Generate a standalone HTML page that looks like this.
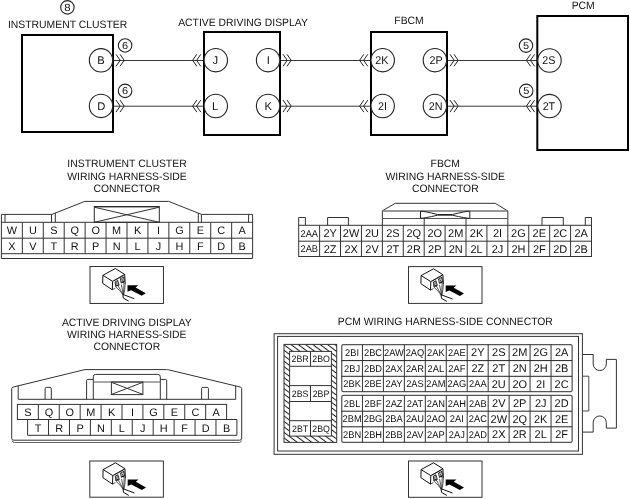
<!DOCTYPE html>
<html><head><meta charset="utf-8"><title>Wiring diagram</title>
<style>
html,body{margin:0;padding:0;background:#fff;width:630px;height:499px;overflow:hidden;}
svg{display:block;will-change:transform;}
text{font-family:"Liberation Sans",sans-serif;}
</style></head><body>
<svg width="630" height="499" viewBox="0 0 630 499" font-family="Liberation Sans, sans-serif" text-rendering="geometricPrecision">
<rect x="0" y="0" width="630" height="499" fill="#fff"/>
<circle cx="67.4" cy="7.35" r="6.75" stroke="#222" stroke-width="1.1" fill="#fff"/>
<text transform="translate(67.45,10.6) scale(1.1,1.0)" x="0" y="0" font-size="10.3" text-anchor="middle" fill="#111" >8</text>
<text transform="translate(67.6,27.5) scale(1.0,1.03)" x="0" y="0" font-size="10.4" text-anchor="middle" fill="#111" >INSTRUMENT CLUSTER</text>
<text transform="translate(243.0,25.5) scale(1.0,1.03)" x="0" y="0" font-size="10.4" text-anchor="middle" fill="#111" >ACTIVE DRIVING DISPLAY</text>
<text transform="translate(409.0,23.7) scale(1.0,1.03)" x="0" y="0" font-size="10.4" text-anchor="middle" fill="#111" >FBCM</text>
<text transform="translate(583.2,8.7) scale(1.0,1.03)" x="0" y="0" font-size="10.4" text-anchor="middle" fill="#111" >PCM</text>
<line x1="113" y1="60.5" x2="203" y2="60.5" stroke="#3a3a3a" stroke-width="1"/>
<line x1="280" y1="60.5" x2="370" y2="60.5" stroke="#3a3a3a" stroke-width="1"/>
<line x1="447" y1="60.5" x2="537" y2="60.5" stroke="#3a3a3a" stroke-width="1"/>
<line x1="113" y1="106.2" x2="203" y2="106.2" stroke="#3a3a3a" stroke-width="1"/>
<line x1="280" y1="106.2" x2="370" y2="106.2" stroke="#3a3a3a" stroke-width="1"/>
<line x1="447" y1="106.2" x2="537" y2="106.2" stroke="#3a3a3a" stroke-width="1"/>
<polyline points="116.0,54.3 120.2,60.3 116.0,66.3" stroke="#222" stroke-width="1" fill="none" stroke-linejoin="miter"/>
<polyline points="120.0,54.3 124.2,60.3 120.0,66.3" stroke="#222" stroke-width="1" fill="none" stroke-linejoin="miter"/>
<polyline points="200.8,54.3 196.60000000000002,60.3 200.8,66.3" stroke="#222" stroke-width="1" fill="none" stroke-linejoin="miter"/>
<polyline points="196.8,54.3 192.60000000000002,60.3 196.8,66.3" stroke="#222" stroke-width="1" fill="none" stroke-linejoin="miter"/>
<polyline points="283.0,54.3 287.2,60.3 283.0,66.3" stroke="#222" stroke-width="1" fill="none" stroke-linejoin="miter"/>
<polyline points="287.0,54.3 291.2,60.3 287.0,66.3" stroke="#222" stroke-width="1" fill="none" stroke-linejoin="miter"/>
<polyline points="367.8,54.3 363.6,60.3 367.8,66.3" stroke="#222" stroke-width="1" fill="none" stroke-linejoin="miter"/>
<polyline points="363.8,54.3 359.6,60.3 363.8,66.3" stroke="#222" stroke-width="1" fill="none" stroke-linejoin="miter"/>
<polyline points="450.0,54.3 454.2,60.3 450.0,66.3" stroke="#222" stroke-width="1" fill="none" stroke-linejoin="miter"/>
<polyline points="454.0,54.3 458.2,60.3 454.0,66.3" stroke="#222" stroke-width="1" fill="none" stroke-linejoin="miter"/>
<polyline points="534.6,54.3 530.4,60.3 534.6,66.3" stroke="#222" stroke-width="1" fill="none" stroke-linejoin="miter"/>
<polyline points="530.6,54.3 526.4,60.3 530.6,66.3" stroke="#222" stroke-width="1" fill="none" stroke-linejoin="miter"/>
<polyline points="116.0,100.1 120.2,106.1 116.0,112.1" stroke="#222" stroke-width="1" fill="none" stroke-linejoin="miter"/>
<polyline points="120.0,100.1 124.2,106.1 120.0,112.1" stroke="#222" stroke-width="1" fill="none" stroke-linejoin="miter"/>
<polyline points="200.8,100.1 196.60000000000002,106.1 200.8,112.1" stroke="#222" stroke-width="1" fill="none" stroke-linejoin="miter"/>
<polyline points="196.8,100.1 192.60000000000002,106.1 196.8,112.1" stroke="#222" stroke-width="1" fill="none" stroke-linejoin="miter"/>
<polyline points="283.0,100.1 287.2,106.1 283.0,112.1" stroke="#222" stroke-width="1" fill="none" stroke-linejoin="miter"/>
<polyline points="287.0,100.1 291.2,106.1 287.0,112.1" stroke="#222" stroke-width="1" fill="none" stroke-linejoin="miter"/>
<polyline points="367.8,100.1 363.6,106.1 367.8,112.1" stroke="#222" stroke-width="1" fill="none" stroke-linejoin="miter"/>
<polyline points="363.8,100.1 359.6,106.1 363.8,112.1" stroke="#222" stroke-width="1" fill="none" stroke-linejoin="miter"/>
<polyline points="450.0,100.1 454.2,106.1 450.0,112.1" stroke="#222" stroke-width="1" fill="none" stroke-linejoin="miter"/>
<polyline points="454.0,100.1 458.2,106.1 454.0,112.1" stroke="#222" stroke-width="1" fill="none" stroke-linejoin="miter"/>
<polyline points="534.6,100.1 530.4,106.1 534.6,112.1" stroke="#222" stroke-width="1" fill="none" stroke-linejoin="miter"/>
<polyline points="530.6,100.1 526.4,106.1 530.6,112.1" stroke="#222" stroke-width="1" fill="none" stroke-linejoin="miter"/>
<rect x="22" y="35" width="91" height="97" stroke="#000" stroke-width="2" fill="none" rx="0"/>
<rect x="204" y="32" width="76" height="103" stroke="#000" stroke-width="2" fill="none" rx="0"/>
<rect x="371" y="32" width="76" height="103" stroke="#000" stroke-width="2" fill="none" rx="0"/>
<rect x="537.3" y="16" width="90.7" height="134" stroke="#000" stroke-width="2" fill="none" rx="0"/>
<circle cx="101.0" cy="60.3" r="11.7" stroke="#222" stroke-width="1.1" fill="#fff"/>
<text x="100.9" y="64.15" font-size="11.2" text-anchor="middle" fill="#111" >B</text>
<circle cx="101.0" cy="105.9" r="11.7" stroke="#222" stroke-width="1.1" fill="#fff"/>
<text x="101.2" y="109.75" font-size="11.2" text-anchor="middle" fill="#111" >D</text>
<circle cx="215.8" cy="60.2" r="11.7" stroke="#222" stroke-width="1.1" fill="#fff"/>
<text x="215.25" y="64.05" font-size="11.2" text-anchor="middle" fill="#111" >J</text>
<circle cx="268.1" cy="60.2" r="11.7" stroke="#222" stroke-width="1.1" fill="#fff"/>
<text x="268.3" y="64.05" font-size="11.2" text-anchor="middle" fill="#111" >I</text>
<circle cx="215.8" cy="106.0" r="11.7" stroke="#222" stroke-width="1.1" fill="#fff"/>
<text x="215.1" y="109.85" font-size="11.2" text-anchor="middle" fill="#111" >L</text>
<circle cx="268.1" cy="106.0" r="11.7" stroke="#222" stroke-width="1.1" fill="#fff"/>
<text x="268.3" y="109.85" font-size="11.2" text-anchor="middle" fill="#111" >K</text>
<circle cx="382.7" cy="60.2" r="11.7" stroke="#222" stroke-width="1.1" fill="#fff"/>
<text transform="translate(381.9,64.05) scale(0.96,1.0)" x="0" y="0" font-size="11.2" text-anchor="middle" fill="#111" >2K</text>
<circle cx="434.9" cy="60.2" r="11.7" stroke="#222" stroke-width="1.1" fill="#fff"/>
<text transform="translate(436.0,64.05) scale(0.96,1.0)" x="0" y="0" font-size="11.2" text-anchor="middle" fill="#111" >2P</text>
<circle cx="382.7" cy="106.0" r="11.7" stroke="#222" stroke-width="1.1" fill="#fff"/>
<text transform="translate(382.4,109.85) scale(0.96,1.0)" x="0" y="0" font-size="11.2" text-anchor="middle" fill="#111" >2I</text>
<circle cx="434.9" cy="106.0" r="11.7" stroke="#222" stroke-width="1.1" fill="#fff"/>
<text transform="translate(435.7,109.85) scale(0.96,1.0)" x="0" y="0" font-size="11.2" text-anchor="middle" fill="#111" >2N</text>
<circle cx="549.5" cy="60.5" r="11.7" stroke="#222" stroke-width="1.1" fill="#fff"/>
<text transform="translate(548.9,64.35) scale(0.96,1.0)" x="0" y="0" font-size="11.2" text-anchor="middle" fill="#111" >2S</text>
<circle cx="549.5" cy="106.1" r="11.7" stroke="#222" stroke-width="1.1" fill="#fff"/>
<text transform="translate(548.9,110.35) scale(0.96,1.0)" x="0" y="0" font-size="11.2" text-anchor="middle" fill="#111" >2T</text>
<circle cx="125.1" cy="45.45" r="6.75" stroke="#222" stroke-width="1.1" fill="#fff"/>
<text transform="translate(125.14999999999999,48.75) scale(1.1,1.0)" x="0" y="0" font-size="10.0" text-anchor="middle" fill="#111" >6</text>
<circle cx="125.1" cy="90.9" r="6.75" stroke="#222" stroke-width="1.1" fill="#fff"/>
<text transform="translate(125.14999999999999,94.2) scale(1.1,1.0)" x="0" y="0" font-size="10.0" text-anchor="middle" fill="#111" >6</text>
<circle cx="526.0" cy="45.6" r="6.75" stroke="#222" stroke-width="1.1" fill="#fff"/>
<text transform="translate(526.05,48.9) scale(1.1,1.0)" x="0" y="0" font-size="10.0" text-anchor="middle" fill="#111" >5</text>
<circle cx="526.2" cy="90.9" r="6.75" stroke="#222" stroke-width="1.1" fill="#fff"/>
<text transform="translate(526.25,94.2) scale(1.1,1.0)" x="0" y="0" font-size="10.0" text-anchor="middle" fill="#111" >5</text>
<text transform="translate(127.0,167.2) scale(1.0,1.03)" x="0" y="0" font-size="10.4" text-anchor="middle" fill="#111" >INSTRUMENT CLUSTER</text>
<text transform="translate(127.0,179.7) scale(1.0,1.03)" x="0" y="0" font-size="10.4" text-anchor="middle" fill="#111" >WIRING HARNESS-SIDE</text>
<text transform="translate(126.8,192.0) scale(1.0,1.03)" x="0" y="0" font-size="10.4" text-anchor="middle" fill="#111" >CONNECTOR</text>
<polyline points="1.4,258.5 1.4,214.4 51.9,214.4 84.8,201.4 168.7,201.4 201.5,214.4 252.6,214.4 252.6,258.5" stroke="#333" stroke-width="1" fill="none" stroke-linejoin="miter"/>
<line x1="1.4" y1="222.3" x2="252.6" y2="222.3" stroke="#333" stroke-width="1"/>
<line x1="1.4" y1="238.2" x2="252.6" y2="238.2" stroke="#333" stroke-width="1"/>
<line x1="1.4" y1="253.7" x2="252.6" y2="253.7" stroke="#333" stroke-width="1"/>
<line x1="1.4" y1="258.5" x2="252.6" y2="258.5" stroke="#333" stroke-width="1"/>
<line x1="22.33" y1="222.3" x2="22.33" y2="253.7" stroke="#333" stroke-width="1"/>
<line x1="43.27" y1="222.3" x2="43.27" y2="253.7" stroke="#333" stroke-width="1"/>
<line x1="64.2" y1="222.3" x2="64.2" y2="253.7" stroke="#333" stroke-width="1"/>
<line x1="85.13" y1="222.3" x2="85.13" y2="253.7" stroke="#333" stroke-width="1"/>
<line x1="106.07" y1="222.3" x2="106.07" y2="253.7" stroke="#333" stroke-width="1"/>
<line x1="127.0" y1="222.3" x2="127.0" y2="253.7" stroke="#333" stroke-width="1"/>
<line x1="147.93" y1="222.3" x2="147.93" y2="253.7" stroke="#333" stroke-width="1"/>
<line x1="168.87" y1="222.3" x2="168.87" y2="253.7" stroke="#333" stroke-width="1"/>
<line x1="189.8" y1="222.3" x2="189.8" y2="253.7" stroke="#333" stroke-width="1"/>
<line x1="210.73" y1="222.3" x2="210.73" y2="253.7" stroke="#333" stroke-width="1"/>
<line x1="231.67" y1="222.3" x2="231.67" y2="253.7" stroke="#333" stroke-width="1"/>
<line x1="5.0" y1="214.4" x2="5.0" y2="222.3" stroke="#333" stroke-width="1"/>
<line x1="51.5" y1="214.4" x2="51.5" y2="222.3" stroke="#333" stroke-width="1"/>
<line x1="55.3" y1="212.9" x2="55.3" y2="222.3" stroke="#333" stroke-width="1"/>
<line x1="198.3" y1="213.1" x2="198.3" y2="222.3" stroke="#333" stroke-width="1"/>
<line x1="201.4" y1="214.4" x2="201.4" y2="222.3" stroke="#333" stroke-width="1"/>
<line x1="248.6" y1="214.4" x2="248.6" y2="222.3" stroke="#333" stroke-width="1"/>
<rect x="94.3" y="206.5" width="65.0" height="15.8" stroke="#2a2a2a" stroke-width="1" fill="none" rx="0"/>
<line x1="94.8" y1="207.5" x2="158.8" y2="207.5" stroke="#aaa" stroke-width="1"/>
<line x1="94.3" y1="207.2" x2="159.3" y2="222.3" stroke="#333" stroke-width="1"/>
<line x1="94.3" y1="222.3" x2="159.3" y2="207.2" stroke="#333" stroke-width="1"/>
<text x="11.97" y="234.0" font-size="10.9" text-anchor="middle" fill="#111" >W</text>
<text x="32.9" y="234.0" font-size="10.9" text-anchor="middle" fill="#111" >U</text>
<text x="53.83" y="234.0" font-size="10.9" text-anchor="middle" fill="#111" >S</text>
<text x="74.77" y="234.0" font-size="10.9" text-anchor="middle" fill="#111" >Q</text>
<text x="95.7" y="234.0" font-size="10.9" text-anchor="middle" fill="#111" >O</text>
<text x="116.63" y="234.0" font-size="10.9" text-anchor="middle" fill="#111" >M</text>
<text x="137.57" y="234.0" font-size="10.9" text-anchor="middle" fill="#111" >K</text>
<text x="158.5" y="234.0" font-size="10.9" text-anchor="middle" fill="#111" >I</text>
<text x="179.43" y="234.0" font-size="10.9" text-anchor="middle" fill="#111" >G</text>
<text x="200.37" y="234.0" font-size="10.9" text-anchor="middle" fill="#111" >E</text>
<text x="221.3" y="234.0" font-size="10.9" text-anchor="middle" fill="#111" >C</text>
<text x="242.23" y="234.0" font-size="10.9" text-anchor="middle" fill="#111" >A</text>
<text x="11.97" y="249.7" font-size="10.9" text-anchor="middle" fill="#111" >X</text>
<text x="32.9" y="249.7" font-size="10.9" text-anchor="middle" fill="#111" >V</text>
<text x="53.83" y="249.7" font-size="10.9" text-anchor="middle" fill="#111" >T</text>
<text x="74.77" y="249.7" font-size="10.9" text-anchor="middle" fill="#111" >R</text>
<text x="95.7" y="249.7" font-size="10.9" text-anchor="middle" fill="#111" >P</text>
<text x="116.63" y="249.7" font-size="10.9" text-anchor="middle" fill="#111" >N</text>
<text x="137.57" y="249.7" font-size="10.9" text-anchor="middle" fill="#111" >L</text>
<text x="158.5" y="249.7" font-size="10.9" text-anchor="middle" fill="#111" >J</text>
<text x="179.43" y="249.7" font-size="10.9" text-anchor="middle" fill="#111" >H</text>
<text x="200.37" y="249.7" font-size="10.9" text-anchor="middle" fill="#111" >F</text>
<text x="221.3" y="249.7" font-size="10.9" text-anchor="middle" fill="#111" >D</text>
<text x="242.23" y="249.7" font-size="10.9" text-anchor="middle" fill="#111" >B</text>
<text transform="translate(445.3,167.4) scale(1.0,1.03)" x="0" y="0" font-size="10.4" text-anchor="middle" fill="#111" >FBCM</text>
<text transform="translate(445.3,179.6) scale(1.0,1.03)" x="0" y="0" font-size="10.4" text-anchor="middle" fill="#111" >WIRING HARNESS-SIDE</text>
<text transform="translate(445.3,192.1) scale(1.0,1.03)" x="0" y="0" font-size="10.4" text-anchor="middle" fill="#111" >CONNECTOR</text>
<rect x="298.7" y="225.3" width="292.8" height="31.19999999999999" stroke="#333" stroke-width="1" fill="none" rx="0"/>
<line x1="298.7" y1="241.2" x2="591.5" y2="241.2" stroke="#333" stroke-width="1"/>
<line x1="319.61" y1="225.3" x2="319.61" y2="256.5" stroke="#333" stroke-width="1"/>
<line x1="340.53" y1="225.3" x2="340.53" y2="256.5" stroke="#333" stroke-width="1"/>
<line x1="361.44" y1="225.3" x2="361.44" y2="256.5" stroke="#333" stroke-width="1"/>
<line x1="382.36" y1="225.3" x2="382.36" y2="256.5" stroke="#333" stroke-width="1"/>
<line x1="403.27" y1="225.3" x2="403.27" y2="256.5" stroke="#333" stroke-width="1"/>
<line x1="424.19" y1="225.3" x2="424.19" y2="256.5" stroke="#333" stroke-width="1"/>
<line x1="445.1" y1="225.3" x2="445.1" y2="256.5" stroke="#333" stroke-width="1"/>
<line x1="466.01" y1="225.3" x2="466.01" y2="256.5" stroke="#333" stroke-width="1"/>
<line x1="486.93" y1="225.3" x2="486.93" y2="256.5" stroke="#333" stroke-width="1"/>
<line x1="507.84" y1="225.3" x2="507.84" y2="256.5" stroke="#333" stroke-width="1"/>
<line x1="528.76" y1="225.3" x2="528.76" y2="256.5" stroke="#333" stroke-width="1"/>
<line x1="549.67" y1="225.3" x2="549.67" y2="256.5" stroke="#333" stroke-width="1"/>
<line x1="570.59" y1="225.3" x2="570.59" y2="256.5" stroke="#333" stroke-width="1"/>
<polyline points="382.36,225.3 382.36,210.8 395.3,203.3 495.2,203.3 507.84,211.0 507.84,225.3" stroke="#333" stroke-width="1" fill="none" stroke-linejoin="miter"/>
<line x1="382.36" y1="211.0" x2="507.84" y2="211.0" stroke="#777" stroke-width="1.3"/>
<line x1="382.36" y1="218.5" x2="507.84" y2="218.5" stroke="#555" stroke-width="1"/>
<line x1="420.5" y1="211.0" x2="420.5" y2="218.5" stroke="#222" stroke-width="1"/>
<line x1="469.8" y1="211.0" x2="469.8" y2="218.5" stroke="#222" stroke-width="1"/>
<path d="M 421 211.2 Q 424 211.2 437.7 214.5 L 452.3 214.5 Q 466 211.2 469.3 211.2" stroke="#222" stroke-width="1" fill="none" />
<path d="M 421 218.3 Q 424 218.3 437.7 215.2 L 452.3 215.2 Q 466 218.3 469.3 218.3" stroke="#222" stroke-width="1" fill="none" />
<line x1="424.19" y1="218.5" x2="424.19" y2="225.3" stroke="#333" stroke-width="1"/>
<line x1="466.01" y1="218.5" x2="466.01" y2="225.3" stroke="#333" stroke-width="1"/>
<polyline points="298.7,225.3 298.7,217.5 305.4,217.5 305.4,225.3" stroke="#333" stroke-width="1" fill="none" stroke-linejoin="miter"/>
<polyline points="327.6,225.3 327.6,217.5 348.4,217.5 348.4,225.3" stroke="#333" stroke-width="1" fill="none" stroke-linejoin="miter"/>
<polyline points="542.0,225.3 542.0,217.5 563.3,217.5 563.3,225.3" stroke="#333" stroke-width="1" fill="none" stroke-linejoin="miter"/>
<polyline points="585.3,225.3 585.3,217.5 591.5,217.5 591.5,225.3" stroke="#333" stroke-width="1" fill="none" stroke-linejoin="miter"/>
<text transform="translate(309.26,236.62) scale(0.95,1.0)" x="0" y="0" font-size="9.8" text-anchor="middle" fill="#111" >2AA</text>
<text transform="translate(330.17,237.1) scale(0.98,1.0)" x="0" y="0" font-size="11.2" text-anchor="middle" fill="#111" >2Y</text>
<text transform="translate(351.09,237.1) scale(0.98,1.0)" x="0" y="0" font-size="11.2" text-anchor="middle" fill="#111" >2W</text>
<text transform="translate(372.0,237.1) scale(0.98,1.0)" x="0" y="0" font-size="11.2" text-anchor="middle" fill="#111" >2U</text>
<text transform="translate(392.91,237.1) scale(0.98,1.0)" x="0" y="0" font-size="11.2" text-anchor="middle" fill="#111" >2S</text>
<text transform="translate(413.83,237.1) scale(0.98,1.0)" x="0" y="0" font-size="11.2" text-anchor="middle" fill="#111" >2Q</text>
<text transform="translate(434.74,237.1) scale(0.98,1.0)" x="0" y="0" font-size="11.2" text-anchor="middle" fill="#111" >2O</text>
<text transform="translate(455.66,237.1) scale(0.98,1.0)" x="0" y="0" font-size="11.2" text-anchor="middle" fill="#111" >2M</text>
<text transform="translate(476.57,237.1) scale(0.98,1.0)" x="0" y="0" font-size="11.2" text-anchor="middle" fill="#111" >2K</text>
<text transform="translate(497.49,237.1) scale(0.98,1.0)" x="0" y="0" font-size="11.2" text-anchor="middle" fill="#111" >2I</text>
<text transform="translate(518.4,237.1) scale(0.98,1.0)" x="0" y="0" font-size="11.2" text-anchor="middle" fill="#111" >2G</text>
<text transform="translate(539.31,237.1) scale(0.98,1.0)" x="0" y="0" font-size="11.2" text-anchor="middle" fill="#111" >2E</text>
<text transform="translate(560.23,237.1) scale(0.98,1.0)" x="0" y="0" font-size="11.2" text-anchor="middle" fill="#111" >2C</text>
<text transform="translate(581.14,237.1) scale(0.98,1.0)" x="0" y="0" font-size="11.2" text-anchor="middle" fill="#111" >2A</text>
<text transform="translate(309.26,252.22) scale(0.95,1.0)" x="0" y="0" font-size="9.8" text-anchor="middle" fill="#111" >2AB</text>
<text transform="translate(330.17,252.7) scale(0.98,1.0)" x="0" y="0" font-size="11.2" text-anchor="middle" fill="#111" >2Z</text>
<text transform="translate(351.09,252.7) scale(0.98,1.0)" x="0" y="0" font-size="11.2" text-anchor="middle" fill="#111" >2X</text>
<text transform="translate(372.0,252.7) scale(0.98,1.0)" x="0" y="0" font-size="11.2" text-anchor="middle" fill="#111" >2V</text>
<text transform="translate(392.91,252.7) scale(0.98,1.0)" x="0" y="0" font-size="11.2" text-anchor="middle" fill="#111" >2T</text>
<text transform="translate(413.83,252.7) scale(0.98,1.0)" x="0" y="0" font-size="11.2" text-anchor="middle" fill="#111" >2R</text>
<text transform="translate(434.74,252.7) scale(0.98,1.0)" x="0" y="0" font-size="11.2" text-anchor="middle" fill="#111" >2P</text>
<text transform="translate(455.66,252.7) scale(0.98,1.0)" x="0" y="0" font-size="11.2" text-anchor="middle" fill="#111" >2N</text>
<text transform="translate(476.57,252.7) scale(0.98,1.0)" x="0" y="0" font-size="11.2" text-anchor="middle" fill="#111" >2L</text>
<text transform="translate(497.49,252.7) scale(0.98,1.0)" x="0" y="0" font-size="11.2" text-anchor="middle" fill="#111" >2J</text>
<text transform="translate(518.4,252.7) scale(0.98,1.0)" x="0" y="0" font-size="11.2" text-anchor="middle" fill="#111" >2H</text>
<text transform="translate(539.31,252.7) scale(0.98,1.0)" x="0" y="0" font-size="11.2" text-anchor="middle" fill="#111" >2F</text>
<text transform="translate(560.23,252.7) scale(0.98,1.0)" x="0" y="0" font-size="11.2" text-anchor="middle" fill="#111" >2D</text>
<text transform="translate(581.14,252.7) scale(0.98,1.0)" x="0" y="0" font-size="11.2" text-anchor="middle" fill="#111" >2B</text>
<text transform="translate(126.8,325.5) scale(1.0,1.03)" x="0" y="0" font-size="10.4" text-anchor="middle" fill="#111" >ACTIVE DRIVING DISPLAY</text>
<text transform="translate(126.8,337.9) scale(1.0,1.03)" x="0" y="0" font-size="10.4" text-anchor="middle" fill="#111" >WIRING HARNESS-SIDE</text>
<text transform="translate(126.8,350.0) scale(1.0,1.03)" x="0" y="0" font-size="10.4" text-anchor="middle" fill="#111" >CONNECTOR</text>
<path d="M 11.7 388.6 Q 11.7 387.4 13 387.1 L 84 369.8 Q 85 369.6 86 369.6 L 166.5 369.6 Q 167.5 369.6 168.5 369.8 L 240.5 387.1 Q 241.7 387.4 241.7 388.6 L 241.7 438.2 Q 241.7 440.2 239.7 440.2 L 13.7 440.2 Q 11.7 440.2 11.7 438.2 Z" stroke="#333" stroke-width="1" fill="none" />
<path d="M 12.2 440.6 Q 12.6 442.5 14.6 442.5 L 239.2 442.5 Q 241.2 442.5 241.4 440.6" stroke="#666" stroke-width="1" fill="none" />
<polyline points="18.2,385.9 18.2,399.3 235.7,399.3 235.7,385.9" stroke="#333" stroke-width="1" fill="none" stroke-linejoin="miter"/>
<path d="M 45.1 399.3 L 45.1 388.6 Q 45.1 387.4 46.3 387.4 L 50.1 387.4 Q 51.3 387.4 51.3 388.6 L 51.3 399.3" stroke="#333" stroke-width="1" fill="none" />
<path d="M 201.6 399.3 L 201.6 388.6 Q 201.6 387.4 202.8 387.4 L 207.2 387.4 Q 208.4 387.4 208.4 388.6 L 208.4 399.3" stroke="#333" stroke-width="1" fill="none" />
<path d="M 86.6 399.3 L 86.6 380.6 Q 86.6 379.4 87.8 379.4 L 93.3 379.4" stroke="#333" stroke-width="1" fill="none" />
<path d="M 160.3 379.4 L 165.5 379.4 Q 166.7 379.4 166.7 380.6 L 166.7 399.3" stroke="#333" stroke-width="1" fill="none" />
<path d="M 93.3 399.3 L 93.3 376.8 Q 93.3 374.4 95.7 374.4 L 157.9 374.4 Q 160.3 374.4 160.3 376.8 L 160.3 399.3" stroke="#333" stroke-width="1" fill="none" />
<line x1="93.3" y1="382.0" x2="160.3" y2="382.0" stroke="#555" stroke-width="1"/>
<rect x="111.4" y="382.0" width="31.5" height="12.6" stroke="#333" stroke-width="1" fill="none" rx="0"/>
<line x1="111.4" y1="382.3" x2="142.9" y2="394.4" stroke="#333" stroke-width="1"/>
<line x1="111.4" y1="394.4" x2="142.9" y2="382.3" stroke="#333" stroke-width="1"/>
<rect x="17.4" y="404.4" width="209.2" height="15.100000000000023" stroke="#333" stroke-width="1" fill="none" rx="0"/>
<line x1="38.32" y1="404.4" x2="38.32" y2="419.5" stroke="#333" stroke-width="1"/>
<line x1="59.24" y1="404.4" x2="59.24" y2="419.5" stroke="#333" stroke-width="1"/>
<line x1="80.16" y1="404.4" x2="80.16" y2="419.5" stroke="#333" stroke-width="1"/>
<line x1="101.08" y1="404.4" x2="101.08" y2="419.5" stroke="#333" stroke-width="1"/>
<line x1="122.0" y1="404.4" x2="122.0" y2="419.5" stroke="#333" stroke-width="1"/>
<line x1="142.92" y1="404.4" x2="142.92" y2="419.5" stroke="#333" stroke-width="1"/>
<line x1="163.84" y1="404.4" x2="163.84" y2="419.5" stroke="#333" stroke-width="1"/>
<line x1="184.76" y1="404.4" x2="184.76" y2="419.5" stroke="#333" stroke-width="1"/>
<line x1="205.68" y1="404.4" x2="205.68" y2="419.5" stroke="#333" stroke-width="1"/>
<polyline points="27.6,419.5 27.6,435.3 236.9,435.3 236.9,419.5 226.6,419.5" stroke="#333" stroke-width="1" fill="none" stroke-linejoin="miter"/>
<line x1="48.53" y1="419.5" x2="48.53" y2="435.3" stroke="#333" stroke-width="1"/>
<line x1="69.46" y1="419.5" x2="69.46" y2="435.3" stroke="#333" stroke-width="1"/>
<line x1="90.39" y1="419.5" x2="90.39" y2="435.3" stroke="#333" stroke-width="1"/>
<line x1="111.32" y1="419.5" x2="111.32" y2="435.3" stroke="#333" stroke-width="1"/>
<line x1="132.25" y1="419.5" x2="132.25" y2="435.3" stroke="#333" stroke-width="1"/>
<line x1="153.18" y1="419.5" x2="153.18" y2="435.3" stroke="#333" stroke-width="1"/>
<line x1="174.11" y1="419.5" x2="174.11" y2="435.3" stroke="#333" stroke-width="1"/>
<line x1="195.04" y1="419.5" x2="195.04" y2="435.3" stroke="#333" stroke-width="1"/>
<line x1="215.97" y1="419.5" x2="215.97" y2="435.3" stroke="#333" stroke-width="1"/>
<text x="27.96" y="416.1" font-size="10.9" text-anchor="middle" fill="#111" >S</text>
<text x="48.88" y="416.1" font-size="10.9" text-anchor="middle" fill="#111" >Q</text>
<text x="69.8" y="416.1" font-size="10.9" text-anchor="middle" fill="#111" >O</text>
<text x="90.72" y="416.1" font-size="10.9" text-anchor="middle" fill="#111" >M</text>
<text x="111.64" y="416.1" font-size="10.9" text-anchor="middle" fill="#111" >K</text>
<text x="132.56" y="416.1" font-size="10.9" text-anchor="middle" fill="#111" >I</text>
<text x="153.48" y="416.1" font-size="10.9" text-anchor="middle" fill="#111" >G</text>
<text x="174.4" y="416.1" font-size="10.9" text-anchor="middle" fill="#111" >E</text>
<text x="195.32" y="416.1" font-size="10.9" text-anchor="middle" fill="#111" >C</text>
<text x="216.24" y="416.1" font-size="10.9" text-anchor="middle" fill="#111" >A</text>
<text x="38.16" y="431.85" font-size="10.9" text-anchor="middle" fill="#111" >T</text>
<text x="59.1" y="431.85" font-size="10.9" text-anchor="middle" fill="#111" >R</text>
<text x="80.03" y="431.85" font-size="10.9" text-anchor="middle" fill="#111" >P</text>
<text x="100.95" y="431.85" font-size="10.9" text-anchor="middle" fill="#111" >N</text>
<text x="121.88" y="431.85" font-size="10.9" text-anchor="middle" fill="#111" >L</text>
<text x="142.81" y="431.85" font-size="10.9" text-anchor="middle" fill="#111" >J</text>
<text x="163.74" y="431.85" font-size="10.9" text-anchor="middle" fill="#111" >H</text>
<text x="184.67" y="431.85" font-size="10.9" text-anchor="middle" fill="#111" >F</text>
<text x="205.6" y="431.85" font-size="10.9" text-anchor="middle" fill="#111" >D</text>
<text x="226.53" y="431.85" font-size="10.9" text-anchor="middle" fill="#111" >B</text>
<text transform="translate(445.3,325.1) scale(1.0,1.03)" x="0" y="0" font-size="10.4" text-anchor="middle" fill="#111" >PCM WIRING HARNESS-SIDE CONNECTOR</text>
<rect x="274.1" y="333.7" width="308.29999999999995" height="120.60000000000002" stroke="#333" stroke-width="1" fill="none" rx="0"/>
<rect x="277.6" y="336.4" width="300.9" height="114.60000000000002" stroke="#333" stroke-width="1" fill="none" rx="0"/>
<path d="M 582.4 354.5 L 593.2 354.5 L 593.2 364.0 A 6.55 6.55 0 0 0 606.3 364.0 L 606.3 359.4 L 616.4 359.4 L 616.4 428.1 L 606.3 428.1 L 606.3 422.5 A 6.55 6.55 0 0 0 593.2 422.5 L 593.2 432.1 L 582.4 432.1" stroke="#333" stroke-width="1" fill="none" />
<path d="M 582.4 376.2 L 588.8 376.2 L 588.8 411.0 L 582.4 411.0" stroke="#4a4a4a" stroke-width="1" fill="none" />
<defs><pattern id="hat" patternUnits="userSpaceOnUse" x="0" y="-1.87" width="20" height="4.38" patternTransform="rotate(36.87)"><line x1="-1" y1="2.19" x2="21" y2="2.19" stroke="#1a1a1a" stroke-width="1.0"/></pattern></defs>
<path d="M 284 344.4 H 336.7 V 442.4 H 284 Z M 289.6 351.4 V 436.1 H 331.4 V 351.4 Z" fill="url(#hat)" fill-rule="evenodd" stroke="none"/>
<rect x="284" y="344.4" width="52.69999999999999" height="98.0" stroke="#333" stroke-width="1.0" fill="none" rx="0"/>
<rect x="289.6" y="351.4" width="41.799999999999955" height="84.70000000000005" stroke="#333" stroke-width="1" fill="none" rx="0"/>
<line x1="289.6" y1="366.3" x2="331.4" y2="366.3" stroke="#333" stroke-width="1"/>
<line x1="289.6" y1="385.6" x2="331.4" y2="385.6" stroke="#333" stroke-width="1"/>
<line x1="289.6" y1="401.5" x2="331.4" y2="401.5" stroke="#333" stroke-width="1"/>
<line x1="289.6" y1="420.7" x2="331.4" y2="420.7" stroke="#333" stroke-width="1"/>
<line x1="310.5" y1="351.4" x2="310.5" y2="366.3" stroke="#333" stroke-width="1"/>
<line x1="310.5" y1="385.6" x2="310.5" y2="401.5" stroke="#333" stroke-width="1"/>
<line x1="310.5" y1="420.7" x2="310.5" y2="436.1" stroke="#333" stroke-width="1"/>
<text transform="translate(300.15,362.05) scale(0.95,1.0)" x="0" y="0" font-size="9.3" text-anchor="middle" fill="#111" >2BR</text>
<text transform="translate(321.05,362.05) scale(0.95,1.0)" x="0" y="0" font-size="9.3" text-anchor="middle" fill="#111" >2BO</text>
<text transform="translate(300.15,396.75) scale(0.95,1.0)" x="0" y="0" font-size="9.3" text-anchor="middle" fill="#111" >2BS</text>
<text transform="translate(321.05,396.75) scale(0.95,1.0)" x="0" y="0" font-size="9.3" text-anchor="middle" fill="#111" >2BP</text>
<text transform="translate(300.15,431.6) scale(0.95,1.0)" x="0" y="0" font-size="9.3" text-anchor="middle" fill="#111" >2BT</text>
<text transform="translate(321.05,431.6) scale(0.95,1.0)" x="0" y="0" font-size="9.3" text-anchor="middle" fill="#111" >2BQ</text>
<rect x="341.75" y="344.65000000000003" width="230.4" height="47.0" rx="1.6" fill="none" stroke="#555" stroke-width="1.25"/>
<line x1="341.5" y1="360.6" x2="572.0" y2="360.6" stroke="#222" stroke-width="1"/>
<line x1="341.5" y1="376.3" x2="572.0" y2="376.3" stroke="#222" stroke-width="1"/>
<line x1="362.45" y1="344.6" x2="362.45" y2="391.7" stroke="#333" stroke-width="1"/>
<line x1="383.41" y1="344.6" x2="383.41" y2="391.7" stroke="#333" stroke-width="1"/>
<line x1="404.36" y1="344.6" x2="404.36" y2="391.7" stroke="#333" stroke-width="1"/>
<line x1="425.32" y1="344.6" x2="425.32" y2="391.7" stroke="#333" stroke-width="1"/>
<line x1="446.27" y1="344.6" x2="446.27" y2="391.7" stroke="#333" stroke-width="1"/>
<line x1="467.23" y1="344.6" x2="467.23" y2="391.7" stroke="#333" stroke-width="1"/>
<line x1="488.18" y1="344.6" x2="488.18" y2="391.7" stroke="#333" stroke-width="1"/>
<line x1="509.14" y1="344.6" x2="509.14" y2="391.7" stroke="#333" stroke-width="1"/>
<line x1="530.09" y1="344.6" x2="530.09" y2="391.7" stroke="#333" stroke-width="1"/>
<line x1="551.05" y1="344.6" x2="551.05" y2="391.7" stroke="#333" stroke-width="1"/>
<text transform="translate(352.08,355.97) scale(0.95,1.0)" x="0" y="0" font-size="9.8" text-anchor="middle" fill="#111" >2BI</text>
<text transform="translate(373.03,355.97) scale(0.95,1.0)" x="0" y="0" font-size="9.8" text-anchor="middle" fill="#111" >2BC</text>
<text transform="translate(393.99,355.97) scale(0.95,1.0)" x="0" y="0" font-size="9.8" text-anchor="middle" fill="#111" >2AW</text>
<text transform="translate(414.94,355.97) scale(0.95,1.0)" x="0" y="0" font-size="9.8" text-anchor="middle" fill="#111" >2AQ</text>
<text transform="translate(435.9,355.97) scale(0.95,1.0)" x="0" y="0" font-size="9.8" text-anchor="middle" fill="#111" >2AK</text>
<text transform="translate(456.85,355.97) scale(0.95,1.0)" x="0" y="0" font-size="9.8" text-anchor="middle" fill="#111" >2AE</text>
<text transform="translate(477.8,356.45) scale(0.98,1.0)" x="0" y="0" font-size="11.2" text-anchor="middle" fill="#111" >2Y</text>
<text transform="translate(498.76,356.45) scale(0.98,1.0)" x="0" y="0" font-size="11.2" text-anchor="middle" fill="#111" >2S</text>
<text transform="translate(519.71,356.45) scale(0.98,1.0)" x="0" y="0" font-size="11.2" text-anchor="middle" fill="#111" >2M</text>
<text transform="translate(540.67,356.45) scale(0.98,1.0)" x="0" y="0" font-size="11.2" text-anchor="middle" fill="#111" >2G</text>
<text transform="translate(561.62,356.45) scale(0.98,1.0)" x="0" y="0" font-size="11.2" text-anchor="middle" fill="#111" >2A</text>
<text transform="translate(352.08,371.82) scale(0.95,1.0)" x="0" y="0" font-size="9.8" text-anchor="middle" fill="#111" >2BJ</text>
<text transform="translate(373.03,371.82) scale(0.95,1.0)" x="0" y="0" font-size="9.8" text-anchor="middle" fill="#111" >2BD</text>
<text transform="translate(393.99,371.82) scale(0.95,1.0)" x="0" y="0" font-size="9.8" text-anchor="middle" fill="#111" >2AX</text>
<text transform="translate(414.94,371.82) scale(0.95,1.0)" x="0" y="0" font-size="9.8" text-anchor="middle" fill="#111" >2AR</text>
<text transform="translate(435.9,371.82) scale(0.95,1.0)" x="0" y="0" font-size="9.8" text-anchor="middle" fill="#111" >2AL</text>
<text transform="translate(456.85,371.82) scale(0.95,1.0)" x="0" y="0" font-size="9.8" text-anchor="middle" fill="#111" >2AF</text>
<text transform="translate(477.8,372.3) scale(0.98,1.0)" x="0" y="0" font-size="11.2" text-anchor="middle" fill="#111" >2Z</text>
<text transform="translate(498.76,372.3) scale(0.98,1.0)" x="0" y="0" font-size="11.2" text-anchor="middle" fill="#111" >2T</text>
<text transform="translate(519.71,372.3) scale(0.98,1.0)" x="0" y="0" font-size="11.2" text-anchor="middle" fill="#111" >2N</text>
<text transform="translate(540.67,372.3) scale(0.98,1.0)" x="0" y="0" font-size="11.2" text-anchor="middle" fill="#111" >2H</text>
<text transform="translate(561.62,372.3) scale(0.98,1.0)" x="0" y="0" font-size="11.2" text-anchor="middle" fill="#111" >2B</text>
<text transform="translate(352.08,387.37) scale(0.95,1.0)" x="0" y="0" font-size="9.8" text-anchor="middle" fill="#111" >2BK</text>
<text transform="translate(373.03,387.37) scale(0.95,1.0)" x="0" y="0" font-size="9.8" text-anchor="middle" fill="#111" >2BE</text>
<text transform="translate(393.99,387.37) scale(0.95,1.0)" x="0" y="0" font-size="9.8" text-anchor="middle" fill="#111" >2AY</text>
<text transform="translate(414.94,387.37) scale(0.95,1.0)" x="0" y="0" font-size="9.8" text-anchor="middle" fill="#111" >2AS</text>
<text transform="translate(435.9,387.37) scale(0.95,1.0)" x="0" y="0" font-size="9.8" text-anchor="middle" fill="#111" >2AM</text>
<text transform="translate(456.85,387.37) scale(0.95,1.0)" x="0" y="0" font-size="9.8" text-anchor="middle" fill="#111" >2AG</text>
<text transform="translate(477.8,387.37) scale(0.95,1.0)" x="0" y="0" font-size="9.8" text-anchor="middle" fill="#111" >2AA</text>
<text transform="translate(498.76,387.85) scale(0.98,1.0)" x="0" y="0" font-size="11.2" text-anchor="middle" fill="#111" >2U</text>
<text transform="translate(519.71,387.85) scale(0.98,1.0)" x="0" y="0" font-size="11.2" text-anchor="middle" fill="#111" >2O</text>
<text transform="translate(540.67,387.85) scale(0.98,1.0)" x="0" y="0" font-size="11.2" text-anchor="middle" fill="#111" >2I</text>
<text transform="translate(561.62,387.85) scale(0.98,1.0)" x="0" y="0" font-size="11.2" text-anchor="middle" fill="#111" >2C</text>
<rect x="341.75" y="395.45" width="230.4" height="46.8" rx="1.6" fill="none" stroke="#555" stroke-width="1.25"/>
<line x1="341.5" y1="411.2" x2="572.0" y2="411.2" stroke="#222" stroke-width="1"/>
<line x1="341.5" y1="426.8" x2="572.0" y2="426.8" stroke="#222" stroke-width="1"/>
<line x1="362.45" y1="395.4" x2="362.45" y2="442.3" stroke="#333" stroke-width="1"/>
<line x1="383.41" y1="395.4" x2="383.41" y2="442.3" stroke="#333" stroke-width="1"/>
<line x1="404.36" y1="395.4" x2="404.36" y2="442.3" stroke="#333" stroke-width="1"/>
<line x1="425.32" y1="395.4" x2="425.32" y2="442.3" stroke="#333" stroke-width="1"/>
<line x1="446.27" y1="395.4" x2="446.27" y2="442.3" stroke="#333" stroke-width="1"/>
<line x1="467.23" y1="395.4" x2="467.23" y2="442.3" stroke="#333" stroke-width="1"/>
<line x1="488.18" y1="395.4" x2="488.18" y2="442.3" stroke="#333" stroke-width="1"/>
<line x1="509.14" y1="395.4" x2="509.14" y2="442.3" stroke="#333" stroke-width="1"/>
<line x1="530.09" y1="395.4" x2="530.09" y2="442.3" stroke="#333" stroke-width="1"/>
<line x1="551.05" y1="395.4" x2="551.05" y2="442.3" stroke="#333" stroke-width="1"/>
<text transform="translate(352.08,406.67) scale(0.95,1.0)" x="0" y="0" font-size="9.8" text-anchor="middle" fill="#111" >2BL</text>
<text transform="translate(373.03,406.67) scale(0.95,1.0)" x="0" y="0" font-size="9.8" text-anchor="middle" fill="#111" >2BF</text>
<text transform="translate(393.99,406.67) scale(0.95,1.0)" x="0" y="0" font-size="9.8" text-anchor="middle" fill="#111" >2AZ</text>
<text transform="translate(414.94,406.67) scale(0.95,1.0)" x="0" y="0" font-size="9.8" text-anchor="middle" fill="#111" >2AT</text>
<text transform="translate(435.9,406.67) scale(0.95,1.0)" x="0" y="0" font-size="9.8" text-anchor="middle" fill="#111" >2AN</text>
<text transform="translate(456.85,406.67) scale(0.95,1.0)" x="0" y="0" font-size="9.8" text-anchor="middle" fill="#111" >2AH</text>
<text transform="translate(477.8,406.67) scale(0.95,1.0)" x="0" y="0" font-size="9.8" text-anchor="middle" fill="#111" >2AB</text>
<text transform="translate(498.76,407.15) scale(0.98,1.0)" x="0" y="0" font-size="11.2" text-anchor="middle" fill="#111" >2V</text>
<text transform="translate(519.71,407.15) scale(0.98,1.0)" x="0" y="0" font-size="11.2" text-anchor="middle" fill="#111" >2P</text>
<text transform="translate(540.67,407.15) scale(0.98,1.0)" x="0" y="0" font-size="11.2" text-anchor="middle" fill="#111" >2J</text>
<text transform="translate(561.62,407.15) scale(0.98,1.0)" x="0" y="0" font-size="11.2" text-anchor="middle" fill="#111" >2D</text>
<text transform="translate(352.08,422.37) scale(0.95,1.0)" x="0" y="0" font-size="9.8" text-anchor="middle" fill="#111" >2BM</text>
<text transform="translate(373.03,422.37) scale(0.95,1.0)" x="0" y="0" font-size="9.8" text-anchor="middle" fill="#111" >2BG</text>
<text transform="translate(393.99,422.37) scale(0.95,1.0)" x="0" y="0" font-size="9.8" text-anchor="middle" fill="#111" >2BA</text>
<text transform="translate(414.94,422.37) scale(0.95,1.0)" x="0" y="0" font-size="9.8" text-anchor="middle" fill="#111" >2AU</text>
<text transform="translate(435.9,422.37) scale(0.95,1.0)" x="0" y="0" font-size="9.8" text-anchor="middle" fill="#111" >2AO</text>
<text transform="translate(456.85,422.37) scale(0.95,1.0)" x="0" y="0" font-size="9.8" text-anchor="middle" fill="#111" >2AI</text>
<text transform="translate(477.8,422.37) scale(0.95,1.0)" x="0" y="0" font-size="9.8" text-anchor="middle" fill="#111" >2AC</text>
<text transform="translate(498.76,422.85) scale(0.98,1.0)" x="0" y="0" font-size="11.2" text-anchor="middle" fill="#111" >2W</text>
<text transform="translate(519.71,422.85) scale(0.98,1.0)" x="0" y="0" font-size="11.2" text-anchor="middle" fill="#111" >2Q</text>
<text transform="translate(540.67,422.85) scale(0.98,1.0)" x="0" y="0" font-size="11.2" text-anchor="middle" fill="#111" >2K</text>
<text transform="translate(561.62,422.85) scale(0.98,1.0)" x="0" y="0" font-size="11.2" text-anchor="middle" fill="#111" >2E</text>
<text transform="translate(352.08,437.92) scale(0.95,1.0)" x="0" y="0" font-size="9.8" text-anchor="middle" fill="#111" >2BN</text>
<text transform="translate(373.03,437.92) scale(0.95,1.0)" x="0" y="0" font-size="9.8" text-anchor="middle" fill="#111" >2BH</text>
<text transform="translate(393.99,437.92) scale(0.95,1.0)" x="0" y="0" font-size="9.8" text-anchor="middle" fill="#111" >2BB</text>
<text transform="translate(414.94,437.92) scale(0.95,1.0)" x="0" y="0" font-size="9.8" text-anchor="middle" fill="#111" >2AV</text>
<text transform="translate(435.9,437.92) scale(0.95,1.0)" x="0" y="0" font-size="9.8" text-anchor="middle" fill="#111" >2AP</text>
<text transform="translate(456.85,437.92) scale(0.95,1.0)" x="0" y="0" font-size="9.8" text-anchor="middle" fill="#111" >2AJ</text>
<text transform="translate(477.8,437.92) scale(0.95,1.0)" x="0" y="0" font-size="9.8" text-anchor="middle" fill="#111" >2AD</text>
<text transform="translate(498.76,438.4) scale(0.98,1.0)" x="0" y="0" font-size="11.2" text-anchor="middle" fill="#111" >2X</text>
<text transform="translate(519.71,438.4) scale(0.98,1.0)" x="0" y="0" font-size="11.2" text-anchor="middle" fill="#111" >2R</text>
<text transform="translate(540.67,438.4) scale(0.98,1.0)" x="0" y="0" font-size="11.2" text-anchor="middle" fill="#111" >2L</text>
<text transform="translate(561.62,438.4) scale(0.98,1.0)" x="0" y="0" font-size="11.2" text-anchor="middle" fill="#111" >2F</text>
<rect x="90.0" y="266.5" width="73.45" height="36.95" fill="none" stroke="#333" stroke-width="1"/>
<g transform="translate(89.7,266.1)">
<path d="M 13.2 9.2 L 25.6 2.4 L 35.0 8.3 L 22.9 15.2 Z M 13.2 9.2 L 13.0 17.3 L 22.6 23.7 L 22.9 15.2 M 35.0 8.3 L 35.5 17.9" fill="#fff" stroke="#111" stroke-width="1" stroke-linejoin="round"/>
<path d="M 24.3 14.6 L 33.6 9.6 M 22.7 23.6 L 25.5 22.2" fill="none" stroke="#222" stroke-width="0.8"/>
<path d="M 25.4 15.8 L 28.0 14.4 L 29.4 19.0 L 26.0 20.1 Z M 30.6 12.7 L 34.0 10.9 L 34.7 15.5 L 31.5 16.9 Z" fill="none" stroke="#111" stroke-width="0.85"/>
<path d="M 25.4 15.8 L 29.4 19.0 M 28.0 14.4 L 26.0 20.1 M 30.6 12.7 L 34.7 15.5 M 34.0 10.9 L 31.5 16.9" fill="none" stroke="#222" stroke-width="0.6"/>
<ellipse cx="33.4" cy="16.0" rx="1.2" ry="0.8" fill="#111"/><ellipse cx="27.6" cy="19.3" rx="1.0" ry="0.7" fill="#111"/>
<path d="M 25.6 20.2 Q 30.5 25 33.35 28.6 M 28.4 19.6 L 33.35 28.6 M 31.6 18.4 Q 32.8 24 33.5 28.4 M 34.3 16.6 L 33.8 28.3 M 35.5 18.0 Q 35.2 24 34.0 28.3" fill="none" stroke="#222" stroke-width="0.75"/>
<circle cx="33.4" cy="28.7" r="0.9" fill="#111"/>
<path d="M 33.6 28.5 L 44.6 32.6 M 33.3 29.6 L 33.6 32.0 L 38.9 35.0" fill="none" stroke="#111" stroke-width="1"/>
<polygon points="37.8,19.2 48.6,19.2 45.9,21.4 56.1,27.2 52.0,29.7 41.4,24.2 37.8,25.6" fill="#000"/>
</g>
<rect x="408.5" y="266.6" width="73.5" height="36.8" fill="none" stroke="#333" stroke-width="1"/>
<g transform="translate(407.9,266.4)">
<path d="M 13.2 9.2 L 25.6 2.4 L 35.0 8.3 L 22.9 15.2 Z M 13.2 9.2 L 13.0 17.3 L 22.6 23.7 L 22.9 15.2 M 35.0 8.3 L 35.5 17.9" fill="#fff" stroke="#111" stroke-width="1" stroke-linejoin="round"/>
<path d="M 24.3 14.6 L 33.6 9.6 M 22.7 23.6 L 25.5 22.2" fill="none" stroke="#222" stroke-width="0.8"/>
<path d="M 25.4 15.8 L 28.0 14.4 L 29.4 19.0 L 26.0 20.1 Z M 30.6 12.7 L 34.0 10.9 L 34.7 15.5 L 31.5 16.9 Z" fill="none" stroke="#111" stroke-width="0.85"/>
<path d="M 25.4 15.8 L 29.4 19.0 M 28.0 14.4 L 26.0 20.1 M 30.6 12.7 L 34.7 15.5 M 34.0 10.9 L 31.5 16.9" fill="none" stroke="#222" stroke-width="0.6"/>
<ellipse cx="33.4" cy="16.0" rx="1.2" ry="0.8" fill="#111"/><ellipse cx="27.6" cy="19.3" rx="1.0" ry="0.7" fill="#111"/>
<path d="M 25.6 20.2 Q 30.5 25 33.35 28.6 M 28.4 19.6 L 33.35 28.6 M 31.6 18.4 Q 32.8 24 33.5 28.4 M 34.3 16.6 L 33.8 28.3 M 35.5 18.0 Q 35.2 24 34.0 28.3" fill="none" stroke="#222" stroke-width="0.75"/>
<circle cx="33.4" cy="28.7" r="0.9" fill="#111"/>
<path d="M 33.6 28.5 L 44.6 32.6 M 33.3 29.6 L 33.6 32.0 L 38.9 35.0" fill="none" stroke="#111" stroke-width="1"/>
<polygon points="37.8,19.2 48.6,19.2 45.9,21.4 56.1,27.2 52.0,29.7 41.4,24.2 37.8,25.6" fill="#000"/>
</g>
<rect x="89.8" y="461.0" width="73.6" height="36.2" fill="none" stroke="#333" stroke-width="1"/>
<g transform="translate(89.9,460.4)">
<path d="M 13.2 9.2 L 25.6 2.4 L 35.0 8.3 L 22.9 15.2 Z M 13.2 9.2 L 13.0 17.3 L 22.6 23.7 L 22.9 15.2 M 35.0 8.3 L 35.5 17.9" fill="#fff" stroke="#111" stroke-width="1" stroke-linejoin="round"/>
<path d="M 24.3 14.6 L 33.6 9.6 M 22.7 23.6 L 25.5 22.2" fill="none" stroke="#222" stroke-width="0.8"/>
<path d="M 25.4 15.8 L 28.0 14.4 L 29.4 19.0 L 26.0 20.1 Z M 30.6 12.7 L 34.0 10.9 L 34.7 15.5 L 31.5 16.9 Z" fill="none" stroke="#111" stroke-width="0.85"/>
<path d="M 25.4 15.8 L 29.4 19.0 M 28.0 14.4 L 26.0 20.1 M 30.6 12.7 L 34.7 15.5 M 34.0 10.9 L 31.5 16.9" fill="none" stroke="#222" stroke-width="0.6"/>
<ellipse cx="33.4" cy="16.0" rx="1.2" ry="0.8" fill="#111"/><ellipse cx="27.6" cy="19.3" rx="1.0" ry="0.7" fill="#111"/>
<path d="M 25.6 20.2 Q 30.5 25 33.35 28.6 M 28.4 19.6 L 33.35 28.6 M 31.6 18.4 Q 32.8 24 33.5 28.4 M 34.3 16.6 L 33.8 28.3 M 35.5 18.0 Q 35.2 24 34.0 28.3" fill="none" stroke="#222" stroke-width="0.75"/>
<circle cx="33.4" cy="28.7" r="0.9" fill="#111"/>
<path d="M 33.6 28.5 L 44.6 32.6 M 33.3 29.6 L 33.6 32.0 L 38.9 35.0" fill="none" stroke="#111" stroke-width="1"/>
<polygon points="37.8,19.2 48.6,19.2 45.9,21.4 56.1,27.2 52.0,29.7 41.4,24.2 37.8,25.6" fill="#000"/>
</g>
<rect x="408.5" y="461.0" width="73.5" height="36.3" fill="none" stroke="#333" stroke-width="1"/>
<g transform="translate(407.9,460.4)">
<path d="M 13.2 9.2 L 25.6 2.4 L 35.0 8.3 L 22.9 15.2 Z M 13.2 9.2 L 13.0 17.3 L 22.6 23.7 L 22.9 15.2 M 35.0 8.3 L 35.5 17.9" fill="#fff" stroke="#111" stroke-width="1" stroke-linejoin="round"/>
<path d="M 24.3 14.6 L 33.6 9.6 M 22.7 23.6 L 25.5 22.2" fill="none" stroke="#222" stroke-width="0.8"/>
<path d="M 25.4 15.8 L 28.0 14.4 L 29.4 19.0 L 26.0 20.1 Z M 30.6 12.7 L 34.0 10.9 L 34.7 15.5 L 31.5 16.9 Z" fill="none" stroke="#111" stroke-width="0.85"/>
<path d="M 25.4 15.8 L 29.4 19.0 M 28.0 14.4 L 26.0 20.1 M 30.6 12.7 L 34.7 15.5 M 34.0 10.9 L 31.5 16.9" fill="none" stroke="#222" stroke-width="0.6"/>
<ellipse cx="33.4" cy="16.0" rx="1.2" ry="0.8" fill="#111"/><ellipse cx="27.6" cy="19.3" rx="1.0" ry="0.7" fill="#111"/>
<path d="M 25.6 20.2 Q 30.5 25 33.35 28.6 M 28.4 19.6 L 33.35 28.6 M 31.6 18.4 Q 32.8 24 33.5 28.4 M 34.3 16.6 L 33.8 28.3 M 35.5 18.0 Q 35.2 24 34.0 28.3" fill="none" stroke="#222" stroke-width="0.75"/>
<circle cx="33.4" cy="28.7" r="0.9" fill="#111"/>
<path d="M 33.6 28.5 L 44.6 32.6 M 33.3 29.6 L 33.6 32.0 L 38.9 35.0" fill="none" stroke="#111" stroke-width="1"/>
<polygon points="37.8,19.2 48.6,19.2 45.9,21.4 56.1,27.2 52.0,29.7 41.4,24.2 37.8,25.6" fill="#000"/>
</g>
</svg>
</body></html>
